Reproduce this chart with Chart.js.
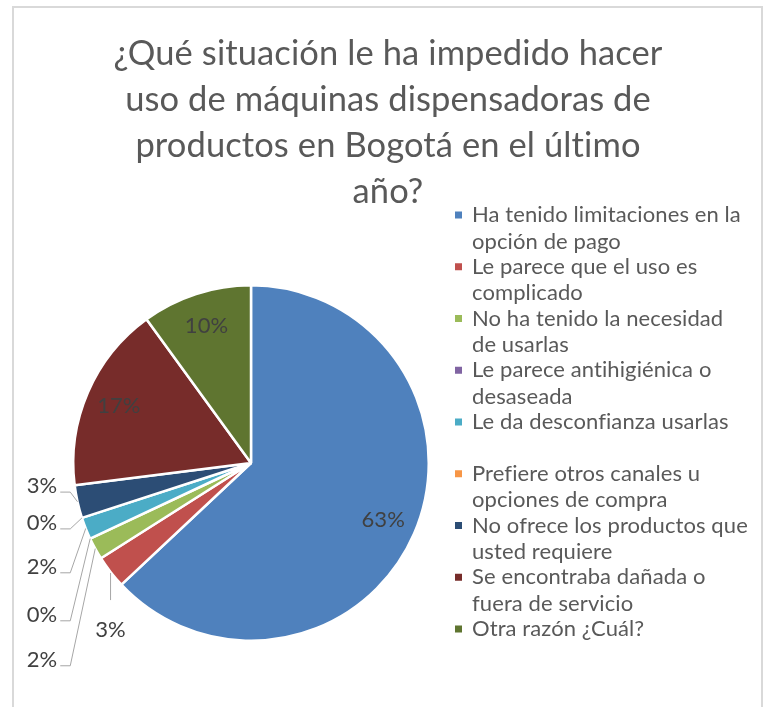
<!DOCTYPE html>
<html>
<head>
<meta charset="utf-8">
<script src="https://cdn.jsdelivr.net/npm/chart.js@4/dist/chart.umd.min.js"></script>
<style>
  html, body { margin: 0; padding: 0; background: #ffffff; overflow: hidden; }
  #frame { position: absolute; left: 12px; top: 6px; width: 751px; height: 730px;
           border: 2px solid #d9d9d9; box-sizing: border-box; }
  #c { position: absolute; left: 0; top: 0; }
</style>
</head>
<body>
<div id="frame"></div>
<canvas id="c" width="768" height="707"></canvas>
<script>
// Survey answers (share of respondents, %)
const categories = [
  'Ha tenido limitaciones en la opción de pago',
  'Le parece que el uso es complicado',
  'No ha tenido la necesidad de usarlas',
  'Le parece antihigiénica o desaseada',
  'Le da desconfianza usarlas',
  'Prefiere otros canales u opciones de compra',
  'No ofrece los productos que usted requiere',
  'Se encontraba dañada o fuera de servicio',
  'Otra razón ¿Cuál?'
];
const shares = [63, 3, 2, 0, 2, 0, 3, 17, 10];

// Legend text, wrapped the way it is shown beside the pie
const legendLines = [
  ['Ha tenido limitaciones en la', 'opción de pago'],
  ['Le parece que el uso es', 'complicado'],
  ['No ha tenido la necesidad', 'de usarlas'],
  ['Le parece antihigiénica o', 'desaseada'],
  ['Le da desconfianza usarlas'],
  ['Prefiere otros canales u', 'opciones de compra'],
  ['No ofrece los productos que', 'usted requiere'],
  ['Se encontraba dañada o', 'fuera de servicio'],
  ['Otra razón ¿Cuál?']
];

const titleLines = [
  '¿Qué situación le ha impedido hacer',
  'uso de máquinas dispensadoras de',
  'productos en Bogotá en el último',
  'año?'
];

const sliceColors = ['#4F81BD', '#C0504D', '#9BBB59', '#8064A2', '#4BACC6',
                     '#F79646', '#2C4D75', '#772C2A', '#5F7530'];

const FONT = 'Lato, "Open Sans", sans-serif';
const TEXT_GREY = '#595959';
const LABEL_GREY = '#404040';

// Where each percentage label sits: inside the slice, or outside on a leader line
// (outside offsets are in units of the pie radius, measured from its centre)
const labelPlacement = [
  { mode: 'inside' },
  { mode: 'below', dx: -0.79, dy: 0.94 },
  { mode: 'left', dx: -1.09, dy: 1.107 },
  { mode: 'left', dx: -1.09, dy: 0.854 },
  { mode: 'left', dx: -1.09, dy: 0.584 },
  { mode: 'left', dx: -1.09, dy: 0.337 },
  { mode: 'left', dx: -1.09, dy: 0.13 },
  { mode: 'inside' },
  { mode: 'inside' }
];

// a hair of letter spacing keeps Lato from merging "ti" into a ligature
function setText(ctx, size) {
  ctx.font = size + 'px ' + FONT;
  if ('letterSpacing' in ctx) ctx.letterSpacing = '0.1px';
}

const titlePlugin = {
  id: 'titleBlock',
  afterDraw(chart) {
    const ctx = chart.ctx;
    ctx.save();
    ctx.fillStyle = TEXT_GREY;
    setText(ctx, 34.5);
    ctx.textAlign = 'center';
    ctx.textBaseline = 'alphabetic';
    titleLines.forEach((line, i) => {
      ctx.fillText(line, 388, 65 + i * 46);
    });
    ctx.restore();
  }
};

const legendPlugin = {
  id: 'sideLegend',
  afterDraw(chart) {
    const ctx = chart.ctx;
    ctx.save();
    setText(ctx, 22);
    ctx.textBaseline = 'middle';
    ctx.textAlign = 'left';
    const top = 215, itemStep = 51.75, lineStep = 26.5;
    legendLines.forEach((lines, i) => {
      const y0 = top + i * itemStep;
      ctx.fillStyle = sliceColors[i];
      ctx.fillRect(455, y0 - 3.5, 7, 7);
      ctx.fillStyle = TEXT_GREY;
      lines.forEach((t, j) => ctx.fillText(t, 472, y0 + j * lineStep));
    });
    ctx.restore();
  }
};

const pctLabelPlugin = {
  id: 'pctLabels',
  afterDatasetsDraw(chart) {
    const ctx = chart.ctx;
    const meta = chart.getDatasetMeta(0);
    const values = chart.data.datasets[0].data;
    ctx.save();
    setText(ctx, 22);
    ctx.fillStyle = LABEL_GREY;
    ctx.textBaseline = 'middle';
    meta.data.forEach((arc, i) => {
      const p = arc.getProps(['x', 'y', 'startAngle', 'endAngle', 'outerRadius'], true);
      const mid = (p.startAngle + p.endAngle) / 2;
      const R = p.outerRadius;
      const text = values[i] + '%';
      const place = labelPlacement[i];
      if (place.mode === 'inside') {
        ctx.textAlign = 'center';
        ctx.fillText(text, p.x + Math.cos(mid) * R * 0.81, p.y + Math.sin(mid) * R * 0.81);
        return;
      }
      const ax = p.x + Math.cos(mid) * R;
      const ay = p.y + Math.sin(mid) * R;
      const lx = p.x + place.dx * R;
      const ly = p.y + place.dy * R;
      ctx.strokeStyle = '#a6a6a6';
      ctx.lineWidth = 1;
      ctx.beginPath();
      if (place.mode === 'left') {
        const lineY = ly + 6;
        ctx.moveTo(lx + 3, lineY);
        ctx.lineTo(lx + 13, lineY);
        ctx.lineTo(ax, ay);
        ctx.stroke();
        ctx.textAlign = 'right';
        ctx.fillText(text, lx, ly);
      } else {
        ctx.moveTo(ax, ay + 1);
        ctx.lineTo(ax, ly - 30);
        ctx.stroke();
        ctx.textAlign = 'center';
        ctx.fillText(text, ax, ly);
      }
    });
    ctx.restore();
  }
};

new Chart(document.getElementById('c'), {
  type: 'pie',
  data: {
    labels: categories,
    datasets: [{
      data: shares,
      backgroundColor: sliceColors,
      borderColor: '#ffffff',
      borderWidth: 2.5
    }]
  },
  options: {
    responsive: false,
    animation: false,
    devicePixelRatio: 1,
    layout: { padding: { left: 72, top: 284, right: 338, bottom: 65 } },
    plugins: {
      legend: { display: false },
      title: { display: false },
      tooltip: { enabled: false }
    }
  },
  plugins: [titlePlugin, legendPlugin, pctLabelPlugin]
});
</script>
</body>
</html>
